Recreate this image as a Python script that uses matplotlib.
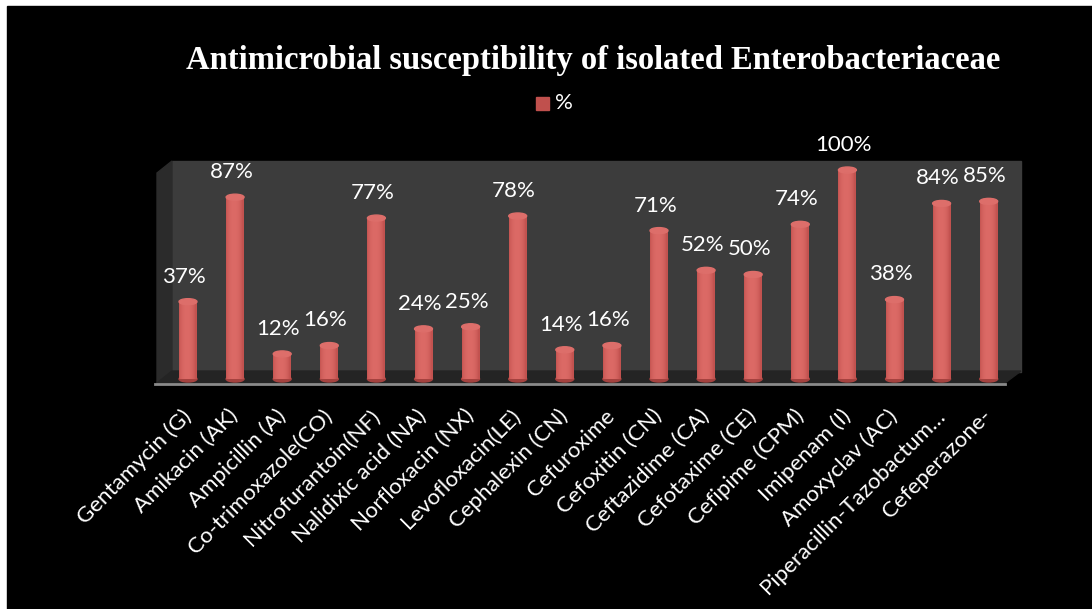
import numpy as np
import matplotlib
matplotlib.use("Agg")
import matplotlib.pyplot as plt
from matplotlib.patches import Polygon, Rectangle, Ellipse

# data
drugs = ["Gentamycin (G)", "Amikacin (AK)", "Ampicillin (A)", "Co-trimoxazole(CO)",
         "Nitrofurantoin(NF)", "Nalidixic acid (NA)", "Norfloxacin (NX)", "Levofloxacin(LE)",
         "Cephalexin (CN)", "Cefuroxime", "Cefoxitin (CN)", "Ceftazidime (CA)",
         "Cefotaxime (CE)", "Cefipime (CPM)", "Imipenam (I)", "Amoxyclav (AC)",
         "Piperacillin-Tazobactum\u2026", "Cefeperazone-"]
pct = [37, 87, 12, 16, 77, 24, 25, 78, 14, 16, 71, 52, 50, 74, 100, 38, 84, 85]

W, H = 1092, 609
fig = plt.figure(figsize=(W / 100, H / 100), dpi=100, facecolor="white")

# background layer in pixel coordinates (black panel + fake 3D walls)
bg = fig.add_axes([0, 0, 1, 1])
bg.set_xlim(0, W)
bg.set_ylim(H, 0)
bg.axis("off")
bg.add_patch(Rectangle((7, 6), W, H, color="black"))
bg.add_patch(Polygon([(172, 161), (1021, 161), (1021, 372), (172, 372)], color="#3c3c3c"))
bg.add_patch(Polygon([(157, 173), (172, 161), (172, 372), (157, 383)], color="#2b2b2b"))
bg.add_patch(Polygon([(157, 383), (172, 371), (1021, 371), (1005, 383)], color="#242424"))
bg.plot([155, 1005], [384, 384], color="#8a8a8a", lw=2)

# title and legend
bg.text(593, 60, "Antimicrobial susceptibility of isolated Enterobacteriaceae",
        ha="center", va="center", color="white", fontsize=23.5, fontweight="bold",
        family="Liberation Serif")
bg.add_patch(Rectangle((536, 97), 13, 13, color="#c0504d"))
bg.text(555, 103, "%", ha="left", va="center", color="white", fontsize=16, family="Lato")

# bar axes: x in category units, y in percent
left_px, right_px, top_px, bot_px = 155, 1025, 162, 385
x0, dx = 188, 47.1
zero_px, ppp = 379, 2.09
ax = fig.add_axes([left_px / W, 1 - bot_px / H, (right_px - left_px) / W, (bot_px - top_px) / H])
ax.patch.set_alpha(0)
for s in ax.spines.values():
    s.set_visible(False)
ax.set_yticks([])

x = np.arange(len(pct))
bw = 0.38
cap = 6 / ppp
grad = np.linspace(0, 1, 64)
shade = 0.55 + 0.45 * np.sin(np.pi * np.clip(grad * 1.1, 0, 1)) ** 0.6
cmap = matplotlib.colors.LinearSegmentedColormap.from_list("r", ["#6e2624", "#c0504d", "#dc6a66"])

bars = ax.bar(x, pct, width=bw, color="#c0504d", zorder=2)
for b, xi, v in zip(bars, x, pct):
    im = ax.imshow(shade[None, :], cmap=cmap, vmin=0, vmax=1, aspect="auto",
                   extent=(xi - bw / 2, xi + bw / 2, 0, v), zorder=3)
    im.set_clip_path(b)
    ax.add_patch(Ellipse((xi, 0), bw, cap, color="#a5423f", zorder=2.5))
    ax.add_patch(Ellipse((xi, v), bw, cap, color="#dd6e6a", zorder=4))
    ax.text(xi - 0.08, v + 12, f"{v}%", ha="center", va="center", color="white",
            fontsize=16, family="Lato")
ax.set_xlim((left_px - x0) / dx, (right_px - x0) / dx)
ax.set_ylim((zero_px - bot_px) / ppp, (zero_px - top_px) / ppp)

ax.set_xticks(x)
ax.set_xticklabels(drugs, rotation=45, ha="right", va="center", rotation_mode="anchor",
                   color="white", fontsize=16, family="Lato")
ax.tick_params(axis="x", length=0, pad=20)

fig.savefig("out.png", dpi=100, facecolor="white")
